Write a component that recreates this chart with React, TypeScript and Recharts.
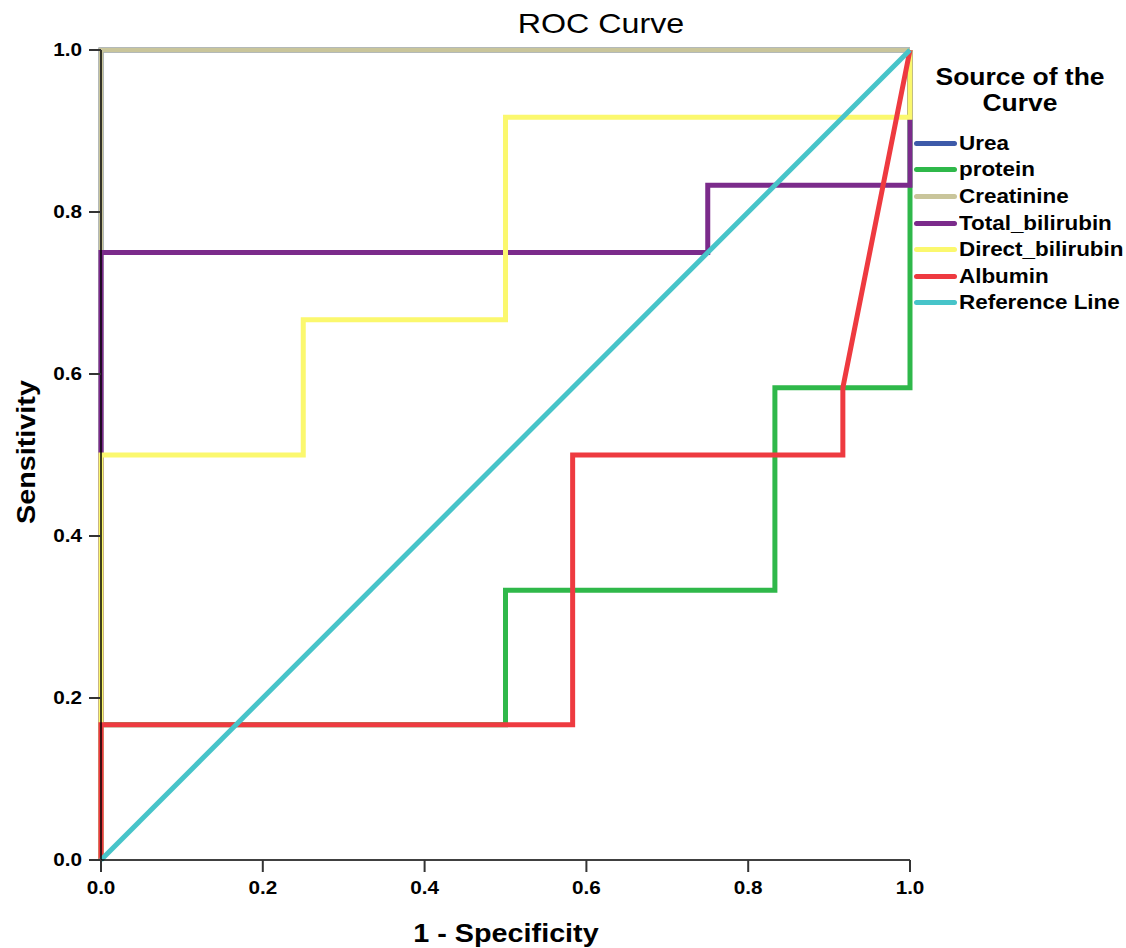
import { LineChart, Line, XAxis, YAxis } from "recharts";

// ROC points as [1 - specificity, sensitivity]
const urea = [
  { x: 0, y: 0 },
  { x: 0, y: 1 },
  { x: 1, y: 1 },
];
const protein = [
  { x: 0, y: 0 },
  { x: 0, y: 0.167 },
  { x: 0.5, y: 0.167 },
  { x: 0.5, y: 0.333 },
  { x: 0.833, y: 0.333 },
  { x: 0.833, y: 0.583 },
  { x: 1, y: 0.583 },
  { x: 1, y: 1 },
];
const creatinine = [
  { x: 0, y: 0 },
  { x: 0, y: 1 },
  { x: 1, y: 1 },
];
const totalBilirubin = [
  { x: 0, y: 0 },
  { x: 0, y: 0.75 },
  { x: 0.75, y: 0.75 },
  { x: 0.75, y: 0.833 },
  { x: 1, y: 0.833 },
  { x: 1, y: 1 },
];
const directBilirubin = [
  { x: 0, y: 0 },
  { x: 0, y: 0.5 },
  { x: 0.25, y: 0.5 },
  { x: 0.25, y: 0.667 },
  { x: 0.5, y: 0.667 },
  { x: 0.5, y: 0.917 },
  { x: 1, y: 0.917 },
  { x: 1, y: 1 },
];
const albumin = [
  { x: 0, y: 0 },
  { x: 0, y: 0.167 },
  { x: 0.583, y: 0.167 },
  { x: 0.583, y: 0.5 },
  { x: 0.917, y: 0.5 },
  { x: 0.917, y: 0.583 },
  { x: 1, y: 1 },
];
const referenceLine = [
  { x: 0, y: 0 },
  { x: 1, y: 1 },
];

const axisTicks = [0, 0.2, 0.4, 0.6, 0.8, 1];

const series = [
  { name: "Urea", data: urea, color: "#3d5aa9" },
  { name: "protein", data: protein, color: "#2fb84a" },
  { name: "Creatinine", data: creatinine, color: "#c9c59b" },
  { name: "Total_bilirubin", data: totalBilirubin, color: "#7b2b8b" },
  { name: "Direct_bilirubin", data: directBilirubin, color: "#fbf86e" },
  { name: "Albumin", data: albumin, color: "#ee3a40" },
  { name: "Reference Line", data: referenceLine, color: "#47c4c9" },
];

const FONT = "'Liberation Sans', Arial, sans-serif";
// the original output has its text stretched sideways a little
const STRETCH = 1.15;

function XTick({ x, y, payload }: any) {
  return (
    <g transform={`translate(${x},${y})`}>
      <text transform={`scale(${STRETCH},1)`} dy="0.71em" textAnchor="middle" fontSize={18} fontWeight={700} fill="#000" fontFamily={FONT}>
        {Number(payload.value).toFixed(1)}
      </text>
    </g>
  );
}

function YTick({ x, y, payload }: any) {
  return (
    <g transform={`translate(${x},${y})`}>
      <text transform={`scale(${STRETCH},1)`} dy="0.35em" textAnchor="end" fontSize={18} fontWeight={700} fill="#000" fontFamily={FONT}>
        {Number(payload.value).toFixed(1)}
      </text>
    </g>
  );
}

export default function App() {
  return (
    <div style={{ position: "absolute", left: 0, top: 0, width: 1126, height: 948, background: "#fff", fontFamily: FONT }}>
      <LineChart width={1126} height={948} margin={{ top: 50, right: 216, left: 0, bottom: 0 }}>
        <XAxis
          dataKey="x"
          type="number"
          domain={[0, 1]}
          ticks={axisTicks}
          height={88}
          tickSize={12}
          tickMargin={9}
          tick={<XTick />}
          axisLine={{ stroke: "#000", strokeWidth: 1.5 }}
          tickLine={{ stroke: "#333", strokeWidth: 2 }}
        />
        <XAxis xAxisId="top" orientation="top" type="number" domain={[0, 1]} height={0} tick={false} tickLine={false} axisLine={{ stroke: "#808080", strokeWidth: 2 }} />
        <YAxis
          type="number"
          domain={[0, 1]}
          ticks={axisTicks}
          width={101}
          tickSize={12}
          tickMargin={7}
          tick={<YTick />}
          axisLine={{ stroke: "#000", strokeWidth: 1.5 }}
          tickLine={{ stroke: "#333", strokeWidth: 2 }}
        />
        <YAxis yAxisId="right" orientation="right" type="number" domain={[0, 1]} width={0} tick={false} tickLine={false} axisLine={{ stroke: "#808080", strokeWidth: 2 }} />
        {series.map((s) => (
          <Line
            key={s.name}
            data={s.data}
            dataKey="y"
            name={s.name}
            type="linear"
            stroke={s.color}
            strokeWidth={5}
            strokeLinejoin="miter"
            dot={false}
            activeDot={false}
            isAnimationActive={false}
          />
        ))}
      </LineChart>

      <div style={{ position: "absolute", left: 601, top: 24, transform: `translate(-50%, -50%) scaleX(${STRETCH})`, fontSize: 28, whiteSpace: "nowrap", color: "#000" }}>
        ROC Curve
      </div>
      <div style={{ position: "absolute", left: 26, top: 452, transform: `translate(-50%, -50%) rotate(-90deg) scaleX(${STRETCH})`, fontSize: 25, fontWeight: 700, whiteSpace: "nowrap" }}>
        Sensitivity
      </div>
      <div style={{ position: "absolute", left: 506, top: 933, transform: `translate(-50%, -50%) scaleX(${STRETCH})`, fontSize: 25, fontWeight: 700, whiteSpace: "nowrap" }}>
        1 - Specificity
      </div>

      <div style={{ position: "absolute", left: 1020, top: 64, transform: `translateX(-50%) scaleX(${STRETCH})`, textAlign: "center", fontSize: 23, fontWeight: 700, lineHeight: "26px", whiteSpace: "nowrap" }}>
        Source of the
        <br />
        Curve
      </div>
      <div style={{ position: "absolute", left: 914, top: 130 }}>
        {series.map((s) => (
          <div key={s.name} style={{ display: "flex", alignItems: "center", height: 26.6 }}>
            <div style={{ width: 43, height: 5, borderRadius: 3, background: s.color, marginRight: 2, flex: "none" }} />
            <span style={{ display: "inline-block", transformOrigin: "left center", transform: `scaleX(${STRETCH})`, fontSize: 19.5, fontWeight: 700, whiteSpace: "nowrap" }}>{s.name}</span>
          </div>
        ))}
      </div>
    </div>
  );
}
